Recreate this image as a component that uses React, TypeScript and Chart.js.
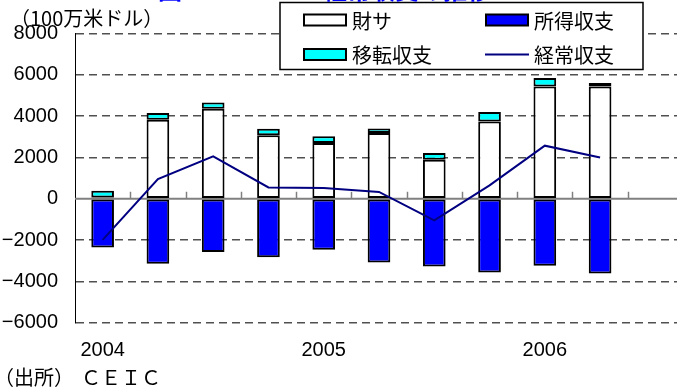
import React, { useEffect, useRef } from "react";
import { Chart, registerables } from "chart.js";

Chart.register(...registerables);

// ---- data ----
const quarters = [
  "2004Q1", "2004Q2", "2004Q3", "2004Q4",
  "2005Q1", "2005Q2", "2005Q3", "2005Q4",
  "2006Q1", "2006Q2", "2006Q3",
];
const xTickLabels = ["2004", "", "", "", "2005", "", "", "", "2006", "", ""];
const goodsServices = [60, 3830, 4360, 3080, 2700, 3180, 1890, 3740, 5440, 5440, null];
const income = [-2360, -3150, -2580, -2830, -2470, -3080, -3280, -3570, -3240, -3620, null];
const transfers = [330, 320, 300, 310, 320, 220, 320, 460, 400, 160, null];
const currentAccount = [-1990, 950, 2050, 550, 520, 330, -1050, 650, 2570, 2000, null];
const yTicks = [8000, 6000, 4000, 2000, 0, -2000, -4000, -6000];
const seriesLabels = ["財サ", "所得収支", "移転収支", "経常収支"];
const unitLabel = "（100万米ドル）";
const sourceLabel = "（出所）";
const sourceName = "ＣＥＩＣ";
const titleParts = ["図1", "経常収支の推移"];

const CJK = "'Noto Sans CJK JP', 'Noto Sans', sans-serif";
const NUM = "'Liberation Sans', Arial, sans-serif";

const decorPlugin = {
  id: "decor",
  beforeDatasetsDraw(chart: any) {
    const { ctx, chartArea } = chart;
    const ys = chart.scales.y;
    const xs = chart.scales.x;
    const y0 = ys.getPixelForValue(0);
    ctx.save();
    ctx.strokeStyle = "#808080";
    ctx.lineWidth = 2;
    ctx.beginPath();
    ctx.moveTo(chartArea.left, y0);
    ctx.lineTo(chartArea.right, y0);
    ctx.stroke();
    const n = quarters.length;
    const w = (chartArea.right - chartArea.left) / n;
    ctx.lineWidth = 1.5;
    for (let i = 0; i < n; i++) {
      const x = Math.round(xs.getPixelForValue(i) + w / 2) + 0.5;
      ctx.beginPath();
      ctx.moveTo(x, y0);
      ctx.lineTo(x, y0 - 7);
      ctx.stroke();
    }
    ctx.restore();
  },
  afterDraw(chart: any) {
    const { ctx } = chart;
    ctx.save();
    // legend box
    const lx = 280, ly = 2.5, lw = 363, lh = 67;
    ctx.fillStyle = "#ffffff";
    ctx.fillRect(lx, ly, lw, lh);
    ctx.strokeStyle = "#000";
    ctx.lineWidth = 1.5;
    ctx.strokeRect(lx, ly, lw, lh);
    const cols = [303, 485];
    const rows = [20, 54.5];
    chart.data.datasets.forEach((ds: any, i: number) => {
      const x = cols[i % 2];
      const y = rows[Math.floor(i / 2)];
      if (ds.type === "line") {
        ctx.strokeStyle = ds.borderColor;
        ctx.lineWidth = 2;
        ctx.beginPath();
        ctx.moveTo(x, y);
        ctx.lineTo(x + 44, y);
        ctx.stroke();
      } else {
        ctx.fillStyle = "#000";
        ctx.fillRect(x, y - 6.5, 44, 13);
        ctx.fillStyle = ds.backgroundColor;
        ctx.fillRect(x + 2, y - 4.5, 40, 9);
      }
      ctx.fillStyle = "#000";
      ctx.font = `20px ${CJK}`;
      ctx.textBaseline = "middle";
      ctx.textAlign = "left";
      ctx.fillText(ds.label, x + 49, y + 1);
    });
    // unit label
    ctx.font = `20px ${CJK}`;
    ctx.fillStyle = "#000";
    ctx.textBaseline = "middle";
    ctx.fillText(unitLabel, 10, 18.5);
    // source
    ctx.fillText(sourceLabel, -6, 377);
    ctx.fillText(sourceName, 81, 377);
    // title (cut off at top)
    ctx.fillStyle = "#0000ff";
    ctx.font = `bold 24px ${CJK}`;
    ctx.textBaseline = "ideographic";
    ctx.fillText(titleParts[0], 158, 1.5);
    ctx.fillText(titleParts[1], 323, 1.5);
    ctx.restore();
  },
};

export default function App() {
  const ref = useRef<HTMLCanvasElement | null>(null);
  useEffect(() => {
    if (!ref.current) return;
    const chart = new Chart(ref.current, {
      type: "bar",
      data: {
        labels: quarters,
        datasets: [
          {
            type: "bar",
            label: seriesLabels[0],
            data: goodsServices,
            backgroundColor: "#ffffff",
            borderColor: "#000000",
            borderWidth: 2,
            borderSkipped: false,
            order: 1,
          },
          {
            type: "bar",
            label: seriesLabels[1],
            data: income,
            backgroundColor: "#0000ff",
            borderColor: "#000000",
            borderWidth: 2,
            borderSkipped: false,
            order: 1,
          },
          {
            type: "bar",
            label: seriesLabels[2],
            data: transfers,
            backgroundColor: "#00ffff",
            borderColor: "#000000",
            borderWidth: 2,
            borderSkipped: false,
            order: 1,
          },
          {
            type: "line",
            label: seriesLabels[3],
            data: currentAccount,
            borderColor: "#000080",
            backgroundColor: "#000080",
            borderWidth: 2,
            pointRadius: 0,
            tension: 0,
            stack: "ca",
            order: 0,
          } as any,
        ],
      },
      options: {
        animation: false,
        responsive: false,
        maintainAspectRatio: false,
        devicePixelRatio: 1,
        layout: { padding: { top: 33.5, left: 0, right: 0, bottom: 0 } },
        datasets: { bar: { barPercentage: 0.41, categoryPercentage: 1 } },
        plugins: {
          legend: { display: false },
          tooltip: { enabled: false },
          title: { display: false },
        },
        scales: {
          x: {
            stacked: true,
            grid: { display: false, drawTicks: false },
            border: { display: false },
            ticks: {
              autoSkip: false,
              maxRotation: 0,
              padding: 15.8,
              color: "#000",
              font: { family: NUM, size: 20 },
              callback: (_v: any, i: number) => xTickLabels[i],
            },
            afterFit: (s: any) => {
              s.height = 69.3;
            },
          },
          y: {
            stacked: true,
            min: -6000,
            max: 8000,
            afterBuildTicks: (s: any) => {
              s.ticks = yTicks.map((v) => ({ value: v }));
            },
            afterFit: (s: any) => {
              s.width = 75;
            },
            grid: {
              drawTicks: false,
              color: (c: any) => (c.tick && c.tick.value === 0 ? "rgba(0,0,0,0)" : "#505050"),
              lineWidth: 1.5,
            },
            border: { display: true, color: "#000", width: 1, dash: [8, 5] },
            ticks: {
              padding: 17,
              color: "#000",
              font: { family: NUM, size: 20 },
              callback: (v: any) => (v < 0 ? "−" + String(-v) : String(v)),
            },
          },
        },
      },
      plugins: [decorPlugin],
    });
    return () => chart.destroy();
  }, []);
  return (
    <div
      style={{
        position: "fixed",
        left: 0,
        top: 0,
        width: 677,
        height: 392,
        overflow: "hidden",
        background: "#fff",
      }}
    >
      <canvas ref={ref} width={683} height={392} style={{ display: "block" }} />
    </div>
  );
}
